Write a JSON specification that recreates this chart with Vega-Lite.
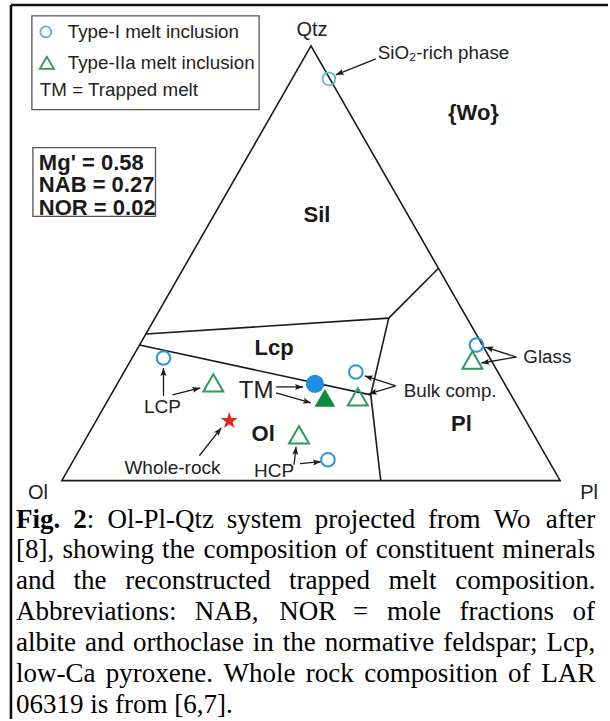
{
"$schema": "https://vega.github.io/schema/vega-lite/v6.json",
"width": 610, "height": 721,
"autosize": {"type": "fit", "contains": "padding"},
"padding": 0,
"background": "white",
"config": {"view": {"stroke": null}},
"datasets": {
 "frame": [{"x": -10.2, "y": 95.4, "x2": -10.2, "y2": -47.8}, {"x": -10.2, "y": 95.4, "x2": 109.6, "y2": 95.4}],
 "tri": [{"x": 100, "y": 0, "i": 0}, {"x": 0, "y": 0, "i": 1}, {"x": 50, "y": 87.2, "i": 2}, {"x": 100, "y": 0, "i": 3}, {"x": 0, "y": 0, "i": 4}],
 "bounds": [
  {"x": 16.86, "y": 29.4, "x2": 65.6, "y2": 32.6},
  {"x": 65.6, "y": 32.6, "x2": 75.6, "y2": 42.6},
  {"x": 65.6, "y": 32.6, "x2": 62, "y2": 17.2},
  {"x": 62, "y": 17.2, "x2": 64, "y2": 0},
  {"x": 15.6, "y": 27.2, "x2": 62, "y2": 17.2}
 ],
 "boxes": [{"x": -6, "y": 93.2, "x2": 39.6, "y2": 74.4}, {"x": -5.8, "y": 66.8, "x2": 18.8, "y2": 53}],
 "arrows": [
  {"x": 63, "y": 84.6, "hx": 55, "hy": 81.4, "angle": 248.2},
  {"x": 20.4, "y": 17, "hx": 20.4, "hy": 22.6, "angle": 0},
  {"x": 22.2, "y": 17.2, "hx": 27.8, "hy": 18.6, "angle": 76},
  {"x": 43, "y": 18.8, "hx": 48.4, "hy": 18.8, "angle": 90},
  {"x": 43, "y": 17.6, "hx": 50, "hy": 15.6, "angle": 105.9},
  {"x": 67, "y": 19, "hx": 60.8, "hy": 21, "angle": 287.9},
  {"x": 67, "y": 19, "hx": 61.6, "hy": 17.4, "angle": 253.5},
  {"x": 91.2, "y": 24.8, "hx": 85, "hy": 26.8, "angle": 287.9},
  {"x": 91.2, "y": 24.8, "hx": 84.2, "hy": 23.6, "angle": 260.3},
  {"x": 27.6, "y": 5, "hx": 32, "hy": 10.6, "angle": 38.2},
  {"x": 46.6, "y": 3.2, "hx": 47, "hy": 6.8, "angle": 6.3},
  {"x": 47.8, "y": 3.4, "hx": 52, "hy": 3.8, "angle": 84.6}
 ],
 "legCircle": [{"x": -3.2, "y": 90}],
 "legTriangle": [{"x": -3, "y": 83.8}],
 "lightCircles": [{"x": 53.6, "y": 80.6}],
 "blueCircles": [{"x": 20.4, "y": 24.6}, {"x": 59, "y": 21.8}, {"x": 83.2, "y": 27.2}, {"x": 53.4, "y": 4.2}],
 "openTriangles": [{"x": 30.4, "y": 19.6}, {"x": 59.4, "y": 16.8}, {"x": 82.4, "y": 24.2}, {"x": 47.6, "y": 9.2}],
 "tmCircle": [{"x": 50.8, "y": 19.4}],
 "tmTriangle": [{"x": 52.8, "y": 16.6}],
 "star": [{"x": 33.6, "y": 12}],
 "txtLeft": [
  {"x": 1.2, "y": 90, "t": "Type-I melt inclusion"},
  {"x": 1.2, "y": 83.8, "t": "Type-IIa melt inclusion"},
  {"x": -4.4, "y": 78.4, "t": "TM = Trapped melt"},
  {"x": 63.4, "y": 85.8, "t": "SiO₂-rich phase"},
  {"x": 68.6, "y": 18, "t": "Bulk comp."},
  {"x": 92.6, "y": 24.8, "t": "Glass"}
 ],
 "txtCenter": [
  {"x": 20.2, "y": 14.8, "t": "LCP"},
  {"x": 42.6, "y": 2, "t": "HCP"},
  {"x": 22.2, "y": 2.6, "t": "Whole-rock"}
 ],
 "txtCorner": [
  {"x": 50.2, "y": 90.4, "t": "Qtz"},
  {"x": -4.8, "y": -2.4, "t": "Ol"},
  {"x": 105.8, "y": -2.4, "t": "Pl"}
 ],
 "txtTM": [{"x": 39, "y": 18, "t": "TM"}],
 "txtBold": [
  {"x": 82.6, "y": 73.8, "t": "{Wo}"},
  {"x": 51.2, "y": 53.2, "t": "Sil"},
  {"x": 42.6, "y": 26.6, "t": "Lcp"},
  {"x": 40.4, "y": 9.4, "t": "Ol"},
  {"x": 80.2, "y": 11.4, "t": "Pl"}
 ],
 "txtMg": [
  {"x": -4.6, "y": 63.8, "t": "Mg' = 0.58"},
  {"x": -4.6, "y": 59.2, "t": "NAB = 0.27"},
  {"x": -4.6, "y": 54.6, "t": "NOR = 0.02"}
 ],
 "capBold": [{"x": -9.2, "y": -7.8, "t": "Fig."}, {"x": 2.3, "y": -7.8, "t": "2"}],
 "capWords": [
  {"x": 5.0, "y": -7.8, "t": ":"},
  {"x": 9.15, "y": -7.8, "t": "Ol-Pl-Qtz"},
  {"x": 33.1, "y": -7.8, "t": "system"},
  {"x": 50.75, "y": -7.8, "t": "projected"},
  {"x": 73.5, "y": -7.8, "t": "from"},
  {"x": 86.65, "y": -7.8, "t": "Wo"},
  {"x": 97.1, "y": -7.8, "t": "after"},
  {"x": -9.2, "y": -14.0, "t": "[8],"},
  {"x": 0.14, "y": -14.0, "t": "showing"},
  {"x": 20.13, "y": -14.0, "t": "the"},
  {"x": 28.43, "y": -14.0, "t": "composition"},
  {"x": 56.82, "y": -14.0, "t": "of"},
  {"x": 63.01, "y": -14.0, "t": "constituent"},
  {"x": 88.4, "y": -14.0, "t": "minerals"},
  {"x": -9.2, "y": -20.2, "t": "and"},
  {"x": 2.37, "y": -20.2, "t": "the"},
  {"x": 12.74, "y": -20.2, "t": "reconstructed"},
  {"x": 45.6, "y": -20.2, "t": "trapped"},
  {"x": 65.57, "y": -20.2, "t": "melt"},
  {"x": 78.94, "y": -20.2, "t": "composition."},
  {"x": -9.2, "y": -26.4, "t": "Abbreviations:"},
  {"x": 26.68, "y": -26.4, "t": "NAB,"},
  {"x": 43.62, "y": -26.4, "t": "NOR"},
  {"x": 58.41, "y": -26.4, "t": "="},
  {"x": 65.24, "y": -26.4, "t": "mole"},
  {"x": 79.82, "y": -26.4, "t": "fractions"},
  {"x": 102.5, "y": -26.4, "t": "of"},
  {"x": -9.2, "y": -32.6, "t": "albite"},
  {"x": 4.64, "y": -32.6, "t": "and"},
  {"x": 14.27, "y": -32.6, "t": "orthoclase"},
  {"x": 38.31, "y": -32.6, "t": "in"},
  {"x": 44.34, "y": -32.6, "t": "the"},
  {"x": 52.78, "y": -32.6, "t": "normative"},
  {"x": 76.52, "y": -32.6, "t": "feldspar;"},
  {"x": 97.25, "y": -32.6, "t": "Lcp,"},
  {"x": -9.2, "y": -38.8, "t": "low-Ca"},
  {"x": 8.84, "y": -38.8, "t": "pyroxene."},
  {"x": 32.43, "y": -38.8, "t": "Whole"},
  {"x": 48.97, "y": -38.8, "t": "rock"},
  {"x": 60.71, "y": -38.8, "t": "composition"},
  {"x": 89.55, "y": -38.8, "t": "of"},
  {"x": 96.2, "y": -38.8, "t": "LAR"},
  {"x": -9.2, "y": -45.0, "t": "06319 is from [6,7]."}
 ]
},
"encoding": {
 "x": {"field": "x", "type": "quantitative", "scale": {"domain": [-12.4, 109.6], "nice": false, "zero": false}, "axis": null},
 "y": {"field": "y", "type": "quantitative", "scale": {"domain": [-47.8, 96.4], "nice": false, "zero": false}, "axis": null}
},
"layer": [
 {"data": {"name": "boxes"}, "mark": {"type": "rect", "fill": "white", "stroke": "#555555", "strokeWidth": 1.3}, "encoding": {"x2": {"field": "x2"}, "y2": {"field": "y2"}}},
 {"data": {"name": "frame"}, "mark": {"type": "rule", "stroke": "#111111", "strokeWidth": 2.6}, "encoding": {"x2": {"field": "x2"}, "y2": {"field": "y2"}}},
 {"data": {"name": "tri"}, "mark": {"type": "line", "stroke": "#1a1a1a", "strokeWidth": 1.6, "strokeJoin": "miter"}, "encoding": {"order": {"field": "i", "type": "quantitative"}}},
 {"data": {"name": "bounds"}, "mark": {"type": "rule", "stroke": "#1a1a1a", "strokeWidth": 1.6}, "encoding": {"x2": {"field": "x2"}, "y2": {"field": "y2"}}},
 {"data": {"name": "arrows"}, "mark": {"type": "rule", "stroke": "#1a1a1a", "strokeWidth": 1.3}, "encoding": {"x2": {"field": "hx"}, "y2": {"field": "hy"}}},
 {"data": {"name": "arrows"}, "mark": {"type": "point", "shape": "M0,0L-0.38,1L0,0.8L0.38,1Z", "filled": true, "fill": "#1a1a1a", "opacity": 1, "size": 256, "strokeWidth": 0},
  "encoding": {"x": {"field": "hx", "type": "quantitative"}, "y": {"field": "hy", "type": "quantitative"}, "angle": {"field": "angle", "type": "quantitative", "scale": null}}},
 {"data": {"name": "legCircle"}, "mark": {"type": "point", "shape": "circle", "filled": false, "stroke": "#55B8D0", "strokeWidth": 1.8, "size": 121, "opacity": 1}},
 {"data": {"name": "lightCircles"}, "mark": {"type": "point", "shape": "circle", "filled": false, "stroke": "#5DBDD4", "strokeWidth": 1.8, "size": 165, "opacity": 1}},
 {"data": {"name": "blueCircles"}, "mark": {"type": "point", "shape": "circle", "filled": false, "stroke": "#2A96D6", "strokeWidth": 2, "size": 185, "opacity": 1}},
 {"data": {"name": "legTriangle"}, "mark": {"type": "point", "shape": "triangle-up", "filled": false, "stroke": "#2E9A5E", "strokeWidth": 1.8, "size": 200, "opacity": 1}},
 {"data": {"name": "openTriangles"}, "mark": {"type": "point", "shape": "triangle-up", "filled": false, "stroke": "#2E9A5E", "strokeWidth": 2, "size": 400, "opacity": 1}},
 {"data": {"name": "tmCircle"}, "mark": {"type": "point", "shape": "circle", "filled": true, "fill": "#1E8FE0", "size": 330, "opacity": 1}},
 {"data": {"name": "tmTriangle"}, "mark": {"type": "point", "shape": "triangle-up", "filled": true, "fill": "#10893D", "size": 430, "opacity": 1}},
 {"data": {"name": "star"}, "mark": {"type": "point", "shape": "M0,-1L0.2245,-0.309L0.951,-0.309L0.363,0.118L0.588,0.809L0,0.382L-0.588,0.809L-0.363,0.118L-0.951,-0.309L-0.2245,-0.309Z", "filled": true, "fill": "#E3241B", "size": 320, "opacity": 1}},
 {"data": {"name": "txtLeft"}, "mark": {"type": "text", "font": "Liberation Sans", "fontSize": 18.8, "align": "left", "baseline": "middle", "fill": "#222222"}, "encoding": {"text": {"field": "t"}}},
 {"data": {"name": "txtCenter"}, "mark": {"type": "text", "font": "Liberation Sans", "fontSize": 19, "align": "center", "baseline": "middle", "fill": "#222222"}, "encoding": {"text": {"field": "t"}}},
 {"data": {"name": "txtCorner"}, "mark": {"type": "text", "font": "Liberation Sans", "fontSize": 20, "align": "center", "baseline": "middle", "fill": "#222222"}, "encoding": {"text": {"field": "t"}}},
 {"data": {"name": "txtTM"}, "mark": {"type": "text", "font": "Liberation Sans", "fontSize": 24, "align": "center", "baseline": "middle", "fill": "#222222"}, "encoding": {"text": {"field": "t"}}},
 {"data": {"name": "txtBold"}, "mark": {"type": "text", "font": "Liberation Sans", "fontSize": 22, "fontWeight": "bold", "align": "center", "baseline": "middle", "fill": "#1a1a1a"}, "encoding": {"text": {"field": "t"}}},
 {"data": {"name": "txtMg"}, "mark": {"type": "text", "font": "Liberation Sans", "fontSize": 22, "fontWeight": "bold", "align": "left", "baseline": "middle", "fill": "#1a1a1a"}, "encoding": {"text": {"field": "t"}}},
 {"data": {"name": "capBold"}, "mark": {"type": "text", "font": "Liberation Serif", "fontSize": 27, "fontWeight": "bold", "align": "left", "baseline": "middle", "fill": "#000000"}, "encoding": {"text": {"field": "t"}}},
 {"data": {"name": "capWords"}, "mark": {"type": "text", "font": "Liberation Serif", "fontSize": 27, "align": "left", "baseline": "middle", "fill": "#000000"}, "encoding": {"text": {"field": "t"}}}
]
}
